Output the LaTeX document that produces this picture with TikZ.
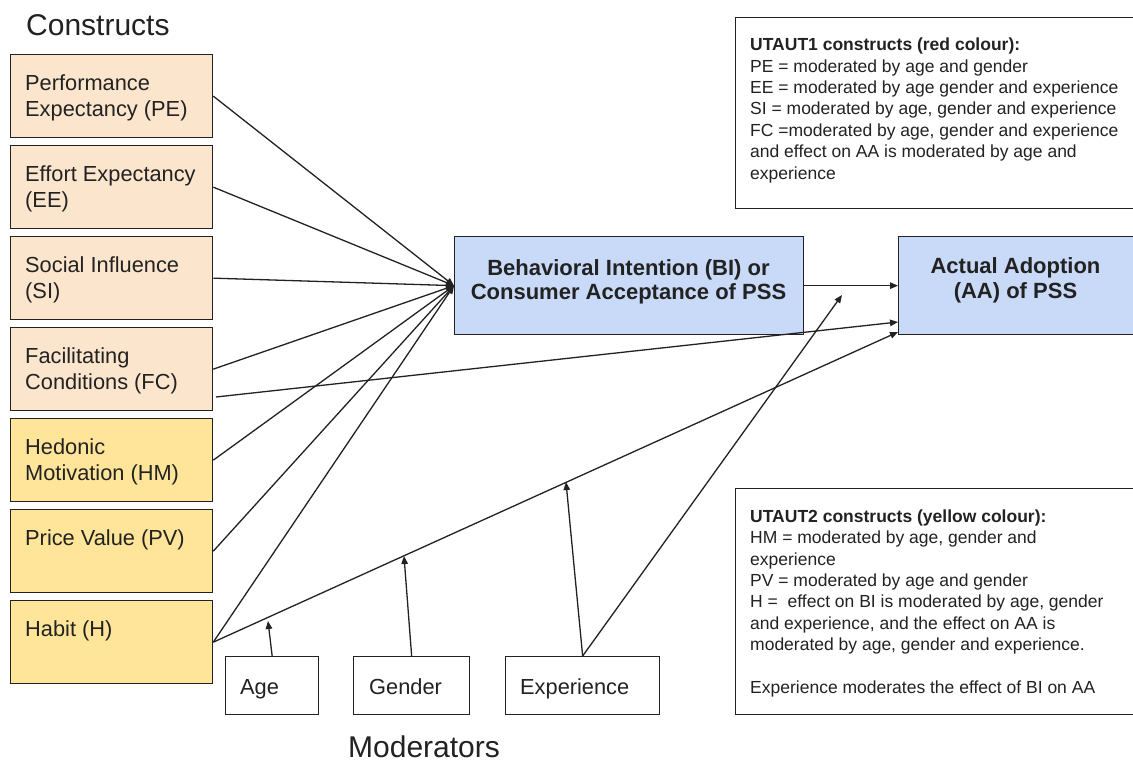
\documentclass[tikz,border=0pt]{standalone}
\usepackage{fontspec}
\setmainfont{Liberation Sans}
\usetikzlibrary{arrows.meta}

\definecolor{peach}{HTML}{FCE5CD}
\definecolor{honey}{HTML}{FFE599}
\definecolor{sky}{HTML}{C9DAF8}
\definecolor{ink}{HTML}{222222}

\begin{document}
\begin{tikzpicture}[x=1pt,y=-1pt,
  box/.style={draw=ink, line width=1.3pt, inner sep=0pt, anchor=north west},
  cbox/.style={box, minimum width=202pt, minimum height=83pt},
  mbox/.style={box, minimum height=58pt},
  note/.style={box, fill=white, minimum width=420pt},
  bigbox/.style={box, fill=sky, minimum height=98pt},
  % multi-line texts are placed by the baseline of their last line
  ctext/.style={anchor=base west, align=left, inner sep=0pt, text=ink,
                font=\fontsize{21.8}{26}\selectfont},
  btext/.style={anchor=base, align=center, inner sep=0pt, text=ink,
                font=\fontsize{22}{24.5}\selectfont\bfseries},
  ntext/.style={anchor=base west, align=left, inner sep=0pt, text=ink,
                font=\fontsize{17.5}{21.4}\selectfont},
  title/.style={anchor=base west, inner sep=0pt, text=ink,
                font=\fontsize{30}{34}\selectfont},
  link/.style={draw=ink, line width=1.3pt},
  arr/.style={link, -{Triangle[length=8pt,width=6.5pt]}}
]
\useasboundingbox (0,0) rectangle (1133,763);
\clip (0,0) rectangle (1133,763);
\fill[white] (0,0) rectangle (1133,763);

% headings
\node[title] (tcon) at (26,35) {Constructs};
\node[title] (tmod) at (348,757) {Moderators};

% construct boxes (UTAUT1 in peach, UTAUT2 in yellow)
\node[cbox, fill=peach] (pe) at (10,54)  {};
\node[cbox, fill=peach] (ee) at (10,145) {};
\node[cbox, fill=peach] (si) at (10,236) {};
\node[cbox, fill=peach] (fc) at (10,327) {};
\node[cbox, fill=honey] (hm) at (10,418) {};
\node[cbox, fill=honey] (pv) at (10,509) {};
\node[cbox, fill=honey] (hb) at (10,600) {};

\node[ctext] (pet) at (25,116) {Performance\\Expectancy (PE)};
\node[ctext] (eet) at (25,207) {Effort Expectancy\\(EE)};
\node[ctext] (sit) at (25,298) {Social Influence\\(SI)};
\node[ctext] (fct) at (25,389) {Facilitating\\Conditions (FC)};
\node[ctext] (hmt) at (25,480) {Hedonic\\Motivation (HM)};
\node[ctext] (pvt) at (25,545) {Price Value (PV)};
\node[ctext] (hbt) at (25,636) {Habit (H)};

% intention and adoption
\node[bigbox, minimum width=349pt] (bi) at (454,236) {};
\node[bigbox, minimum width=245pt] (aa) at (898,236) {};
\node[btext] (bit) at (628.5,299.5) {Behavioral Intention (BI) or\\Consumer Acceptance of PSS};
\node[btext] (aat) at (1015.5,298) {Actual Adoption\\(AA) of PSS};

% moderators
\node[mbox, minimum width=93pt]  (age) at (225,656) {};
\node[mbox, minimum width=116pt] (gen) at (353,656) {};
\node[mbox, minimum width=154pt] (exp) at (505,656) {};
\node[ctext] (aget) at (240,694) {Age};
\node[ctext] (gent) at (369,694) {Gender};
\node[ctext] (expt) at (520,694) {Experience};

% explanatory notes
\node[note, minimum height=191pt] (n1) at (735,17) {};
\node[ntext] (n1t) at (750,179) {\textbf{UTAUT1 constructs (red colour):}\\
PE = moderated by age and gender\\
EE = moderated by age gender and experience\\
SI = moderated by age, gender and experience\\
FC =moderated by age, gender and experience\\
and effect on AA is moderated by age and\\
experience};
\node[note, minimum height=226pt] (n2) at (735,488) {};
\node[ntext] (n2t) at (750,693.5) {\textbf{UTAUT2 constructs (yellow colour):}\\
HM = moderated by age, gender and\\
experience\\
PV = moderated by age and gender\\
H = \ effect on BI is moderated by age, gender\\
and experience, and the effect on AA is\\
moderated by age, gender and experience.\\[21.4pt]
Experience moderates the effect of BI on AA};

% connector end points
\coordinate (fcout) at (216,397);
\coordinate (aafc) at (898,322);
\coordinate (aahb) at (898,332);
\coordinate (biaa) at (842,295);
\coordinate (onage) at (268,621);
\coordinate (ongen) at (404,556);
\coordinate (onexp) at (566,482);

% constructs to behavioural intention
\foreach \c in {pe,ee,si,fc,hm,pv,hb}
  \draw[arr] (\c.east) -- (bi.west);

% paths to actual adoption
\draw[arr] (bi.east) -- (aa.west);
\draw[arr] (fcout) -- (aafc);
\draw[arr] (hb.east) -- (aahb);

% moderating effects
\draw[arr] (age.north) -- (onage);
\draw[arr] (gen.north) -- (ongen);
\draw[arr] (exp.north) -- (onexp);
\draw[arr] (exp.north) -- (biaa);
\end{tikzpicture}
\end{document}
